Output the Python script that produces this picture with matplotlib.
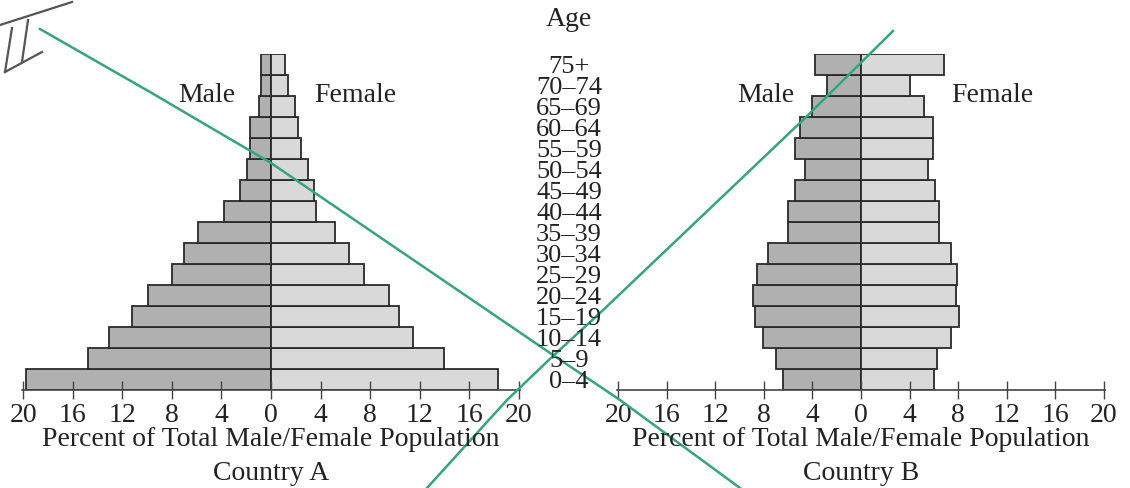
import matplotlib.pyplot as plt
import matplotlib.transforms as mtransforms
from matplotlib.lines import Line2D

plt.rcParams['font.family'] = ['Liberation Serif', 'DejaVu Serif']

age_groups = ['0–4', '5–9', '10–14', '15–19', '20–24', '25–29', '30–34', '35–39',
              '40–44', '45–49', '50–54', '55–59', '60–64', '65–69', '70–74', '75+']

# percent of total population, youngest group first
a_male = [19.8, 14.8, 13.1, 11.2, 9.9, 8.0, 7.0, 5.9, 3.8, 2.5, 1.9, 1.7, 1.7, 0.95, 0.8, 0.8]
a_female = [18.3, 14.0, 11.5, 10.3, 9.5, 7.5, 6.3, 5.2, 3.6, 3.5, 2.95, 2.4, 2.2, 1.9, 1.4, 1.15]

b_male = [6.4, 7.0, 8.1, 8.75, 8.9, 8.6, 7.7, 6.0, 6.0, 5.4, 4.6, 5.4, 5.0, 4.0, 2.8, 3.8]
b_female = [6.0, 6.3, 7.4, 8.05, 7.85, 7.9, 7.4, 6.4, 6.4, 6.1, 5.5, 5.95, 5.9, 5.2, 4.0, 6.8]

ticks = [-20, -16, -12, -8, -4, 0, 4, 8, 12, 16, 20]
tick_labels = [str(abs(t)) for t in ticks]

# hand-drawn marks on the scan, in pixels of the 1130x488 image
green_line_1 = [(40, 29), (150, 92), (271, 163), (553, 355), (620, 400), (740, 488)]
green_line_2 = [(893, 31), (803, 120), (600, 313), (553, 356), (507, 400), (427, 488)]
roman_two = [[(0, 25), (72, 2)], [(12, 28), (5, 72)], [(28, 20), (22, 62)], [(5, 72), (42, 52)]]

W, H = 1130, 488
fig = plt.figure(figsize=(W / 100, H / 100), dpi=100)

male_col = '#b0b0b0'
female_col = '#d9d9d9'
edge = '#2a2a2a'
txt = '#222222'
fs = 20


def pyramid(rect, male, female, country):
    ax = fig.add_axes(rect)
    y = list(range(len(age_groups)))
    ax.barh(y, [-m for m in male], height=1.0, color=male_col, edgecolor=edge, linewidth=1.3)
    ax.barh(y, female, height=1.0, color=female_col, edgecolor=edge, linewidth=1.3)
    ax.set_xlim(-20.1, 20.1)
    ax.set_ylim(-0.5, len(age_groups) - 0.5)
    for s in ['top', 'left', 'right']:
        ax.spines[s].set_visible(False)
    ax.spines['bottom'].set_color('#444444')
    ax.spines['bottom'].set_linewidth(1.2)
    ax.set_yticks([])
    ax.set_xticks(ticks)
    ax.set_xticklabels(tick_labels)
    ax.tick_params(axis='x', direction='inout', length=13, width=1.0, color='#444444',
                   labelsize=fs, labelcolor=txt, pad=2.5)
    ax.set_facecolor('none')
    cx = (rect[0] + rect[2] / 2)
    fig.text(cx, 1 - 439 / H, 'Percent of Total Male/Female Population',
             ha='center', va='center', fontsize=fs, color=txt)
    fig.text(cx, 1 - 474 / H, country, ha='center', va='center', fontsize=fs, color=txt)
    return ax


ax_a = pyramid([22 / W, 1 - 390 / H, 498 / W, 336 / H], a_male, a_female, 'Country A')
ax_b = pyramid([617 / W, 1 - 390 / H, 488 / W, 336 / H], b_male, b_female, 'Country B')

# age labels between the two pyramids (stacked tightly, as in the source)
tr = mtransforms.blended_transform_factory(fig.transFigure, ax_a.transData)
for i, lab in enumerate(age_groups):
    fig.text(569 / W, i - 0.1, lab, transform=tr, ha='center', va='center',
             fontsize=19, color=txt, linespacing=1)
fig.text(569 / W, 1 - 20 / H, 'Age', ha='center', va='center', fontsize=fs, color=txt)

for x, lab in [(207, 'Male'), (355, 'Female'), (766, 'Male'), (992, 'Female')]:
    fig.text(x / W, 1 - 96 / H, lab, ha='center', va='center', fontsize=fs, color=txt)

# pen marks
for pts in [green_line_1, green_line_2]:
    fig.add_artist(Line2D([p[0] / W for p in pts], [1 - p[1] / H for p in pts],
                          color='#35a678', linewidth=1.8, transform=fig.transFigure))
for stroke in roman_two:
    fig.add_artist(Line2D([p[0] / W for p in stroke], [1 - p[1] / H for p in stroke],
                          color='#555555', linewidth=1.6, transform=fig.transFigure))

fig.savefig('out.png', dpi=100)
